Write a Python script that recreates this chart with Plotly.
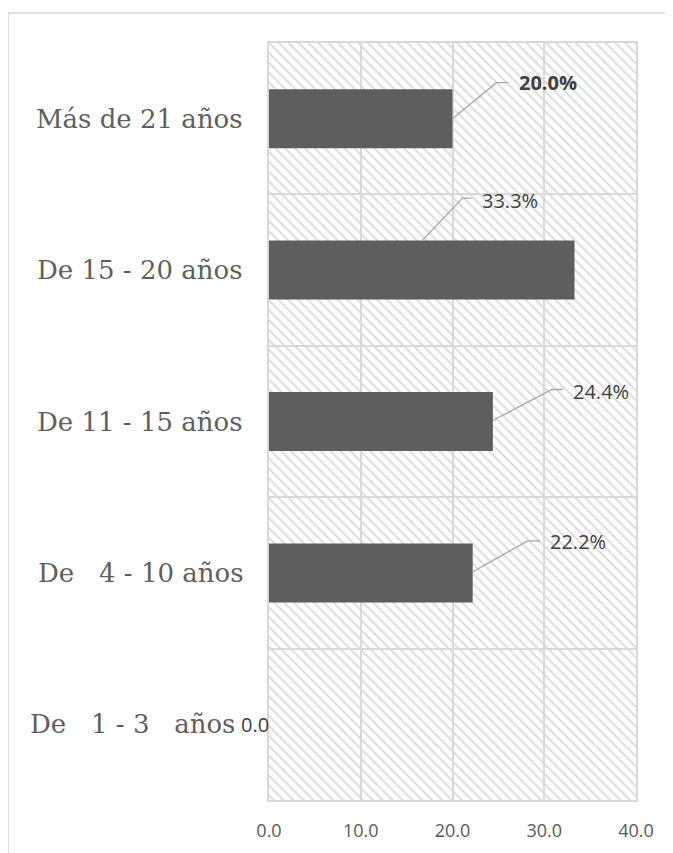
import plotly.graph_objects as go

# Data (bottom to top, as plotted)
categories = ["De\u00a0\u00a0 1 - 3\u00a0\u00a0 años", "De\u00a0\u00a0 4 - 10 años",
              "De 11 - 15 años", "De 15 - 20 años", "Más de 21 años"]
values = [0.0, 22.2, 24.4, 33.3, 20.0]
x_ticks = [0, 10, 20, 30, 40]

x_max = x_ticks[-1]

# label text: percent for non-zero values, top label is bold
labels = []
for i, v in enumerate(values):
    t = f"{v:.1f}%" if v > 0 else f"{v:.1f}"
    if i == len(values) - 1:
        t = f"<b>{t}</b>"
    labels.append(t)

# pixel offsets for the data labels and their leader lines (style only)
text_offsets = [(-14, 0), (105, 31), (108, 30), (-65, 70), (95, 36)]
leader_paths = [None,
                "M0,1 L55,32 L67,32",
                "M0,1 L59,32 L70,32",
                "M-152,30 L-112,72 L-103,72",
                "M0,0 L44,36 L56,36"]
cat_label_shift = [-32, -24, -24, -24, -24]

grid = "#d9d9d9"

fig = go.Figure()

# hatched plot background
fig.add_trace(go.Bar(
    y=categories, x=[x_max] * len(categories), orientation="h", width=1,
    marker=dict(color="#d9d9d9", line=dict(width=0),
                pattern=dict(shape="\\", size=7, solidity=0.26, fillmode="replace")),
    hoverinfo="skip", showlegend=False,
))

fig.add_trace(go.Bar(
    y=categories, x=values, orientation="h", width=0.39,
    marker=dict(color="#5e5e5e", line=dict(width=0)),
    showlegend=False,
))

annotations = []
shapes = []
for i, v in enumerate(values):
    dx, dy = text_offsets[i]
    annotations.append(dict(
        x=v, y=i, xref="x", yref="y", text=labels[i], showarrow=False,
        xshift=dx, yshift=dy, xanchor="center", yanchor="middle",
        font=dict(family="Open Sans", size=20, color="#404040"),
    ))
    # category label
    annotations.append(dict(
        x=0, y=i, xref="paper", yref="y", text=categories[i], showarrow=False,
        xshift=cat_label_shift[i], xanchor="right", yanchor="middle",
        font=dict(family="DejaVu Serif", size=26, color="#5f5f5f"),
    ))
    if leader_paths[i]:
        shapes.append(dict(
            type="path", xref="x", yref="y", xsizemode="pixel", ysizemode="pixel",
            xanchor=v, yanchor=i, path=leader_paths[i],
            line=dict(color="#a6a6a6", width=1.3),
        ))

# outer chart border
shapes.append(dict(
    type="rect", xref="paper", yref="paper", x0=-0.711, x1=1.2, y0=-0.1, y1=1.0396,
    line=dict(color="#d9d9d9", width=1.5), layer="below",
))

fig.update_layout(
    width=673, height=853,
    margin=dict(l=261, r=45, t=35, b=61),
    barmode="overlay",
    paper_bgcolor="white", plot_bgcolor="white",
    annotations=annotations, shapes=shapes,
    xaxis=dict(range=[0, x_max], tickvals=x_ticks, tickformat=".1f",
               showgrid=True, gridcolor=grid, gridwidth=1.5, zeroline=False,
               showline=True, linecolor=grid, linewidth=1.5, mirror=True,
               ticks="", ticklabelstandoff=14,
               tickfont=dict(family="Open Sans", size=18, color="#595959")),
    yaxis=dict(showgrid=True, gridcolor=grid, gridwidth=1.5, tickson="boundaries",
               showline=True, linecolor=grid, linewidth=1.5, mirror=True,
               ticks="", showticklabels=False, range=[-0.5, len(categories) - 0.5]),
)

fig.write_html("out.html")
